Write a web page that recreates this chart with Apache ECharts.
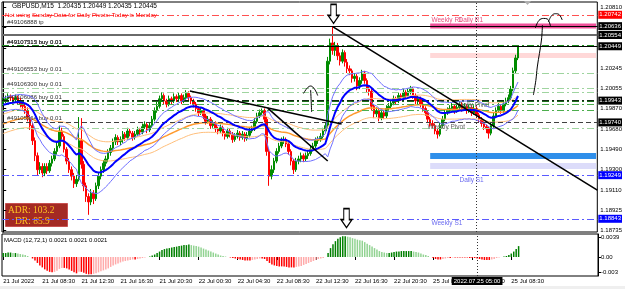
<!DOCTYPE html>
<html>
<head>
<meta charset="utf-8">
<script src="https://cdn.jsdelivr.net/npm/echarts@6.0.0/dist/echarts.min.js"></script>
<style>
html,body{margin:0;padding:0;background:#ffffff;}
#chart{width:625px;height:289px;}
</style>
</head>
<body>
<div id="chart"></div>
<script>
// ---------------- data ----------------
const firstOpen = 1.1992;
const closes = [
1.1994,1.1996,1.1998,1.1997,1.1995,1.1997,1.1994,1.1991,1.1989,1.1985,
1.1978,1.1971,1.1957,1.1943,1.1930,1.1933,1.1927,1.1933,1.1929,1.1936,
1.1940,1.1947,1.1952,1.1966,1.1961,1.1949,1.1938,1.1930,1.1924,1.1917,
1.1921,1.1957,1.1935,1.1915,1.1905,1.1900,1.1908,1.1903,1.1915,1.1924,
1.1930,1.1936,1.1940,1.1946,1.1950,1.1956,1.1960,1.1956,1.1958,1.1963,
1.1960,1.1966,1.1964,1.1960,1.1963,1.1967,1.1965,1.1970,1.1972,1.1967,
1.1971,1.1977,1.1985,1.1989,1.1996,1.1999,1.1994,1.1991,1.1996,1.1994,
1.1998,1.1996,1.1999,1.1994,1.1997,1.2001,1.1997,1.1994,1.1991,1.1987,
1.1983,1.1985,1.1980,1.1975,1.1977,1.1971,1.1973,1.1968,1.1966,1.1969,
1.1964,1.1961,1.1966,1.1963,1.1958,1.1961,1.1964,1.1960,1.1963,1.1959,
1.1962,1.1966,1.1968,1.1975,1.1980,1.1983,1.1985,1.1977,1.1947,1.1924,
1.1930,1.1938,1.1947,1.1952,1.1957,1.1958,1.1954,1.1947,1.1938,1.1930,
1.1938,1.1940,1.1943,1.1940,1.1943,1.1945,1.1949,1.1952,1.1957,1.1958,
1.1961,1.1966,1.1971,1.2031,1.2048,1.2041,1.2045,1.2036,1.2031,1.2039,
1.2030,1.2024,1.2022,1.2015,1.2017,1.2008,1.2013,1.2020,1.2013,1.2005,
1.2003,1.1989,1.1982,1.1985,1.1978,1.1983,1.1980,1.1987,1.1989,1.1992,
1.1996,1.1994,1.1999,1.1997,1.2002,1.1999,1.2003,1.2005,1.1999,1.1994,
1.1996,1.1991,1.1987,1.1983,1.1977,1.1973,1.1971,1.1966,1.1963,1.1971,
1.1977,1.1983,1.1985,1.1987,1.1989,1.1985,1.1988,1.1991,1.1987,1.1989,
1.1985,1.1988,1.1983,1.1987,1.1981,1.1977,1.1973,1.1970,1.1968,1.1964,
1.1971,1.1980,1.1985,1.1989,1.1985,1.1991,1.1994,1.1997,1.2005,1.2022,
1.2034,1.20445
];
const highs = [
1.1997,1.1999,1.2001,1.2000,1.1999,1.2000,1.1999,1.1997,1.1994,1.1992,
1.1988,1.1981,1.1974,1.1960,1.1946,1.1937,1.1936,1.1936,1.1936,1.1939,
1.1943,1.1950,1.1956,1.1971,1.1969,1.1963,1.1951,1.1941,1.1933,1.1927,
1.1925,1.1979,1.1978,1.1938,1.1918,1.1908,1.1912,1.1911,1.1918,1.1927,
1.1933,1.1939,1.1943,1.1949,1.1953,1.1959,1.1963,1.1962,1.1961,1.1966,
1.1965,1.1969,1.1968,1.1966,1.1966,1.1970,1.1969,1.1973,1.1975,1.1974,
1.1974,1.1980,1.1988,1.1993,1.1999,1.2002,1.2001,1.1996,1.1999,1.1998,
1.2001,1.2000,1.2002,1.2001,1.2000,1.2004,1.2003,1.1999,1.1996,1.1993,
1.1989,1.1988,1.1987,1.1982,1.1980,1.1979,1.1976,1.1975,1.1970,1.1972,
1.1971,1.1966,1.1969,1.1968,1.1965,1.1964,1.1967,1.1966,1.1966,1.1965,
1.1965,1.1969,1.1971,1.1978,1.1983,1.1986,1.1987,1.1987,1.1979,1.1950,
1.1934,1.1941,1.1950,1.1955,1.1960,1.1961,1.1960,1.1956,1.1949,1.1940,
1.1941,1.1943,1.1946,1.1945,1.1946,1.1948,1.1952,1.1955,1.1960,1.1961,
1.1964,1.1969,1.1974,1.2035,1.2052,1.2063,1.2049,1.2048,1.2039,1.2042,
1.2041,1.2033,1.2027,1.2024,1.2020,1.2019,1.2016,1.2023,1.2022,1.2015,
1.2008,1.2005,1.1991,1.1988,1.1987,1.1986,1.1985,1.1990,1.1992,1.1995,
1.1999,1.1998,1.2002,1.2001,1.2005,1.2004,1.2006,1.2008,1.2007,1.2001,
1.1999,1.1998,1.1993,1.1989,1.1985,1.1979,1.1976,1.1973,1.1968,1.1974,
1.1980,1.1986,1.1988,1.1990,1.1992,1.1991,1.1991,1.1994,1.1993,1.1992,
1.1991,1.1991,1.1990,1.1990,1.1989,1.1983,1.1979,1.1975,1.1972,1.1970,
1.1974,1.1983,1.1988,1.1992,1.1991,1.1994,1.1997,1.2000,1.2008,1.2025,
1.2037,1.20449
];
const lows = [
1.1989,1.1992,1.1994,1.1994,1.1992,1.1993,1.1991,1.1988,1.1986,1.1982,
1.1975,1.1967,1.1953,1.1938,1.1925,1.1926,1.1923,1.1924,1.1926,1.1927,
1.1933,1.1938,1.1944,1.1950,1.1958,1.1946,1.1935,1.1927,1.1920,1.1913,
1.1914,1.1919,1.1931,1.1910,1.1900,1.1888,1.1897,1.1898,1.1901,1.1912,
1.1921,1.1927,1.1933,1.1937,1.1943,1.1947,1.1953,1.1953,1.1953,1.1955,
1.1957,1.1958,1.1961,1.1957,1.1958,1.1961,1.1962,1.1963,1.1968,1.1964,
1.1965,1.1969,1.1975,1.1983,1.1987,1.1993,1.1991,1.1988,1.1989,1.1991,
1.1992,1.1993,1.1994,1.1991,1.1992,1.1995,1.1994,1.1991,1.1988,1.1984,
1.1980,1.1981,1.1977,1.1972,1.1973,1.1968,1.1969,1.1965,1.1963,1.1964,
1.1961,1.1958,1.1959,1.1960,1.1955,1.1956,1.1959,1.1957,1.1958,1.1956,
1.1957,1.1960,1.1964,1.1966,1.1973,1.1978,1.1981,1.1974,1.1943,1.1915,
1.1921,1.1927,1.1936,1.1945,1.1950,1.1954,1.1951,1.1944,1.1934,1.1926,
1.1928,1.1935,1.1937,1.1937,1.1938,1.1940,1.1943,1.1947,1.1950,1.1954,
1.1956,1.1959,1.1964,1.1969,1.2028,1.2037,1.2036,1.2032,1.2027,1.2029,
1.2026,1.2020,1.2018,1.2011,1.2012,1.2004,1.2005,1.2010,1.2010,1.2002,
1.1999,1.1985,1.1978,1.1979,1.1975,1.1976,1.1977,1.1978,1.1984,1.1987,
1.1990,1.1991,1.1992,1.1994,1.1995,1.1996,1.1997,1.2000,1.1996,1.1991,
1.1991,1.1988,1.1984,1.1980,1.1974,1.1970,1.1968,1.1963,1.1959,1.1961,
1.1969,1.1975,1.1981,1.1983,1.1985,1.1982,1.1983,1.1986,1.1984,1.1985,
1.1982,1.1983,1.1980,1.1981,1.1978,1.1974,1.1970,1.1967,1.1964,1.1959,
1.1962,1.1969,1.1978,1.1983,1.1982,1.1983,1.1989,1.1992,1.1995,1.2003,
1.2020,1.2032
];
const macdHist = [
.0008,.0008,.0009,.0009,.0008,.0008,.0007,.0006,.0005,
.0004,.0002,0,
-.0003,-.0007,-.0012,-.0017,-.0021,
-.0025,-.0028,-.0030,-.0031,-.0030,-.0028,
-.0024,-.0022,-.0022,-.0023,
-.0025,-.0028,-.0031,-.0033,-.0030,-.0030,
-.0032,-.0034,-.0035,-.0035,-.0034,-.0033,-.0031,-.0029,
-.0027,-.0025,-.0023,-.0020,-.0017,-.0015,-.0013,-.0011,
-.0009,-.0008,-.0007,-.0006,-.0005,-.0005,-.0004,-.0003,
-.0002,-.0001,0,.0001,
.0003,.0005,.0008,.0011,.0014,.0016,
.0017,.0018,.0019,.0020,.0021,.0022,.0023,.0024,.0024,.0025,
.0024,.0023,.0022,.0021,.0019,.0017,
.0015,.0013,.0011,.0009,.0007,.0005,.0003,.0002,
.0001,0,-.0001,
-.0002,-.0003,-.0004,-.0005,-.0006,-.0007,-.0007,
-.0007,-.0006,-.0005,-.0004,-.0003,-.0003,-.0004,
-.0008,-.0012,-.0015,-.0017,-.0018,-.0019,-.0019,-.0019,
-.0020,-.0021,-.0021,-.0021,-.0020,-.0019,-.0018,-.0016,
-.0014,-.0012,-.0010,-.0008,-.0006,-.0004,-.0003,-.0002,0,
.0008,.0018,.0026,.0032,.0037,
.0040,.0042,.0042,.0041,.0040,
.0038,.0037,.0035,.0034,.0033,
.0030,.0027,.0024,.0021,.0018,.0015,.0012,
.0010,.0009,.0008,.0008,.0009,.0010,
.0011,.0011,.0012,.0012,.0012,.0012,.0012,
.0011,.0010,.0009,.0007,.0005,.0004,.0002,
0,-.0002,-.0004,-.0005,-.0005,
-.0004,-.0003,-.0002,-.0002,-.0001,-.0001,-.0001,
-.0001,-.0001,-.0001,-.0001,-.0002,-.0002,-.0002,
-.0003,-.0004,-.0005,-.0006,-.0006,-.0006,-.0005,
-.0004,-.0002,-.0001,0,.0001,
.0002,.0004,.0007,.0011,.0016,.0022
];
const tickTimes = ['21 Jul 04:30','21 Jul 08:30','21 Jul 12:30','21 Jul 16:30','21 Jul 20:30','22 Jul 00:30','22 Jul 04:30','22 Jul 08:30','22 Jul 12:30','22 Jul 16:30','22 Jul 20:30','25 Jul 00:30','25 Jul 04:30','25 Jul 08:30'];
const tickTexts = ['21 Jul 2022','21 Jul 08:30','21 Jul 12:30','21 Jul 16:30','21 Jul 20:30','22 Jul 00:30','22 Jul 04:30','22 Jul 08:30','22 Jul 12:30','22 Jul 16:30','22 Jul 20:30','25 Jul 00:30','25 Jul 04:30','25 Jul 08:30'];
const priceTicks = [1.20810,1.20625,1.20435,1.20245,1.20055,1.19870,1.19680,1.19490,1.19300,1.19110,1.18925,1.18735];
const macdTicks = [0.0039, 0, -0.003];
const boxPrices = [1.20742,1.20636,1.20554,1.20449,1.19943,1.19740,1.19249,1.18843];
const orderPrices = [1.20638,1.20452,1.20445,1.20196,1.20061,1.20023,1.19940,1.19912,1.19856,1.19738,1.19688];
const orderLabels = ['#49106888 tp','#49107313 buy 0.01','#49107515 buy 0.01','#49106553 buy 0.01','#49106300 buy 0.01','','#49106086 buy 0.01','','','#49105964 buy 0.01',''];
const bandPrices = [[1.20662,1.20615],[1.20386,1.20340],[1.19456,1.19400],[1.19363,1.19307]];
const bandStart = 175;
const pivotNames = ['Weekly R1','Daily R1','Daily Pivot','Weekly Pivot','Daily S1','Weekly S1'];
const pivotAnchors = [[175.5,1.20694],[186.6,1.20694],[186.6,1.19902],[173.9,1.19698],[187.0,1.19204],[175.5,1.18804]];
const trendLines = [
  [[76.5,1.20033],[138.7,1.19726]],
  [[108.4,1.19874],[133.0,1.19381]],
  [[135.2,1.20630],[243.5,1.19110]]
];
const crossIndex = 194;
const crossText = '2022.07.25 05:00';
const adrText = ['ADR: 103.2','DR: 85.9'];
// hand-drawn strokes (index, price)
const sketch1 = [[126.4,1.19837],[126.2,1.19950],[126.0,1.20042]];
const sketch1Head = [[123.1,1.20010],[124.6,1.20060],[126.0,1.20079],[127.6,1.20050],[128.9,1.19990]];
const sketch2 = [[217.3,1.19995],[218.3,1.20130],[218.9,1.20256],[220.6,1.20507],[221.0,1.20647]];
const sketch2Head = [[218.1,1.20619],[219.6,1.20690],[221.5,1.20708],[223.0,1.20703],[224.3,1.20638]];
const sketch3Head = [[223.4,1.20675],[224.8,1.20735],[226.3,1.20752],[227.8,1.20745],[229.1,1.20694]];
const arrowMarks = [[135.4,1.20750],[140.7,1.18850]];
// indicator seeds read at the left edge
const blueSeed = 1.1990, atrSeed = 0.0006, orangeSeed = 1.1972;

// ---------------- derived ----------------
const SLOTS = 244;
function pad(n){return (n<10?'0':'')+n;}
const times = [];
(function(){ let d=21, m=4*60+30; for(let k=0;k<SLOTS;k++){ times.push(d+' Jul '+pad(Math.floor(m/60))+':'+pad(m%60)); m+=15; if(m>=1440){m-=1440; d=(d===22)?25:d+1;} } })();
const tickMap = {}; tickTimes.forEach((t,i)=>tickMap[t]=tickTexts[i]);

const opens = closes.map((c,i)=> i===0 ? firstOpen : closes[i-1]);
const candles = closes.map((c,i)=>[opens[i], c, lows[i], highs[i]]);
function ema(src, period, seed){ const k=2/(period+1); let e=seed; return src.map(v=>{ e+=k*(v-e); return e; }); }
const tr = closes.map((c,i)=>{ const pc = opens[i]; return Math.max(highs[i]-lows[i], Math.abs(highs[i]-pc), Math.abs(lows[i]-pc)); });
const atr = ema(tr, 10, atrSeed);
const blueMid = ema(closes, 20, blueSeed);
const blueUp = blueMid.map((v,i)=>v+1.0*atr[i]);
const blueDn = blueMid.map((v,i)=>v-1.0*atr[i]);
const orMid = ema(closes, 60, orangeSeed);
const orUp = orMid.map(v=>v*1.00075);
const orDn = orMid.map(v=>v*0.99925);

const macdItems = macdHist.map((v,i)=>{
  const p = i===0 ? v : macdHist[i-1];
  let col;
  if (v >= 0) col = (v >= p) ? '#008000' : '#92D392';
  else col = (v <= p) ? '#FF0000' : '#FFAAAA';
  return {value:v, itemStyle:{color:col}};
});

const FONT = 'Liberation Sans';
const DASHDOT = [7,3,2,3];
const boxStyles = [
  {color:'#FF5050', type:DASHDOT, width:1, bg:'#FF0000'},
  {color:'#000000', type:'solid', width:1, bg:'#000000'},
  {color:'#6A6A6A', type:'solid', width:2, bg:'#000000'},
  {color:'#000000', type:'solid', width:1, bg:'#000000'},
  {color:'#102810', type:DASHDOT, width:1, bg:'#000000'},
  {color:'#404040', type:[5,3], width:1, bg:'#000000'},
  {color:'#5A5AFF', type:DASHDOT, width:1, bg:'#0000FF'},
  {color:'#5A5AFF', type:DASHDOT, width:1, bg:'#0000FF'}
];
const orderStyles = [
  {color:'#000000', type:'solid', width:1},
  {color:'#1E8C1E', type:DASHDOT, width:2},
  {color:'#1E8C1E', type:DASHDOT, width:1},
  {color:'#9FD49F', type:DASHDOT, width:1},
  {color:'#9FD49F', type:DASHDOT, width:1},
  {color:'#9FD49F', type:DASHDOT, width:1},
  {color:'#1E6E1E', type:DASHDOT, width:1},
  {color:'#4DAE4D', type:DASHDOT, width:1},
  {color:'#4DAE4D', type:DASHDOT, width:1},
  {color:'#404040', type:[5,3], width:1},
  {color:'#9FD49F', type:DASHDOT, width:1}
];
const bandColors = ['#F0509A','#FFD8D8','#2F8FEA','#DCDCFA'];
const pivotColors = ['#E8507E','#E8507E','#666666','#666666','#6B6BF0','#6B6BF0'];

const levelMarkLines = [];
orderPrices.forEach((p,i)=>{
  levelMarkLines.push({yAxis:p, lineStyle:{color:orderStyles[i].color, type:orderStyles[i].type, width:orderStyles[i].width},
    label:{show:!!orderLabels[i], position:'insideStartTop', formatter:orderLabels[i], distance:[5,1], fontSize:6, color:'#303030', fontFamily:FONT}});
});
boxPrices.forEach((p,i)=>{
  const s = boxStyles[i];
  levelMarkLines.push({yAxis:p, lineStyle:{color:s.color, type:s.type, width:s.width},
    label:{show:true, position:'end', distance:1, formatter:p.toFixed(5), fontSize:6, color:'#FFFFFF', backgroundColor:s.bg, padding:[1,1,1,1], fontFamily:FONT}});
});
levelMarkLines.push({xAxis:crossIndex, lineStyle:{color:'#333', type:[1,2], width:1}, label:{show:false}});

const pivotPoints = pivotNames.map((n,i)=>({name:n, coord:pivotAnchors[i], symbol:'circle', symbolSize:0,
  label:{show:true, position:'right', distance:0, formatter:n, fontSize:6.5, color:pivotColors[i], fontFamily:FONT}}));

const arrowPath = 'path://M3,0 L9,0 L9,11 L12,11 L6,19 L0,11 L3,11 Z';

function lineSeries(data, color, width, z){
  return {type:'line', xAxisIndex:0, yAxisIndex:0, data:data, symbol:'none', smooth:false, z:z, silent:true,
    lineStyle:{color:color, width:width}, itemStyle:{color:color}};
}
function sketchSeries(data, width){
  return {type:'line', xAxisIndex:2, yAxisIndex:0, data:data, symbol:'none', smooth:0.4, z:6, silent:true,
    lineStyle:{color:'#000', width:width}};
}

const chart = echarts.init(document.getElementById('chart'), null, {renderer:'canvas'});
const option = {
  animation:false,
  textStyle:{fontFamily:FONT},
  title:[
    {text:'GBPUSD,M15  1.20435 1.20449 1.20435 1.20445', left:12, top:3, padding:0, textStyle:{fontSize:6.5, fontWeight:'normal', color:'#000', fontFamily:FONT}},
    {text:'Not using Sunday Data for Daily Pivots: Today is Monday', left:5, top:12, padding:0, textStyle:{fontSize:6, fontWeight:'normal', color:'#FF0000', fontFamily:FONT}},
    {text:'MACD (12,72,1) 0.0021 0.0021 0.0021', left:4, top:237, padding:0, textStyle:{fontSize:6, fontWeight:'normal', color:'#000', fontFamily:FONT}}
  ],
  grid:[
    {left:2, right:27, top:2, height:230, show:true, borderColor:'#000', borderWidth:1, backgroundColor:'transparent'},
    {left:2, right:27, top:234, height:42, show:true, borderColor:'#000', borderWidth:1, backgroundColor:'transparent'}
  ],
  xAxis:[
    {type:'category', gridIndex:0, data:times, boundaryGap:true, axisLine:{show:false}, axisTick:{show:false}, axisLabel:{show:false}, splitLine:{show:false}},
    {type:'category', gridIndex:1, data:times, boundaryGap:true, axisLine:{show:false},
      axisTick:{show:true, alignWithLabel:true, length:3, interval:(i,v)=>tickMap[v]!==undefined, lineStyle:{color:'#000'}},
      axisLabel:{show:true, interval:(i,v)=>tickMap[v]!==undefined, formatter:v=>tickMap[v]||'', align:'left', fontSize:6, color:'#000', margin:2, fontFamily:FONT},
      splitLine:{show:false}},
    {type:'value', gridIndex:0, min:-0.5, max:SLOTS-0.5, show:false}
  ],
  yAxis:[
    {type:'value', gridIndex:0, position:'right', min:1.18720, max:1.20861, scale:true,
      axisLine:{show:true, lineStyle:{color:'#000'}}, splitLine:{show:false},
      axisTick:{show:true, customValues:priceTicks, length:3, lineStyle:{color:'#000'}},
      axisLabel:{show:true, customValues:priceTicks, formatter:v=>v.toFixed(5), fontSize:6, color:'#000', margin:3, fontFamily:FONT}},
    {type:'value', gridIndex:1, position:'right', min:-0.003838, max:0.004646,
      axisLine:{show:true, lineStyle:{color:'#000'}}, splitLine:{show:false},
      axisTick:{show:true, customValues:macdTicks, length:3, lineStyle:{color:'#000'}},
      axisLabel:{show:true, customValues:macdTicks, formatter:v=>(v===0?'0.00':String(v)), fontSize:6, color:'#000', margin:3, fontFamily:FONT}}
  ],
  graphic:[
    {type:'rect', left:5, top:203, z:0, shape:{width:62, height:23}, style:{fill:'#A42A24', stroke:'#C85050', lineWidth:1}},
    {type:'text', left:8, top:205, z:1, style:{text:adrText[0], fill:'#FFC125', font:'9.5px "Liberation Serif"'}},
    {type:'text', left:15, top:216, z:1, style:{text:adrText[1], fill:'#FFC125', font:'9.5px "Liberation Serif"'}},
    {type:'polygon', z:1, shape:{points:[[524,1],[531,1],[527.5,5]]}, style:{fill:'#B0B0B0'}},
    {type:'rect', left:0, top:286, z:0, shape:{width:625, height:3}, style:{fill:'#EFEFEF'}}
  ],
  series:[
    {type:'line', name:'levels', xAxisIndex:0, yAxisIndex:0, data:[], z:1, silent:true,
      markArea:{silent:true, data:bandPrices.map((b,i)=>[{xAxis:bandStart, yAxis:b[0], itemStyle:{color:bandColors[i]}},{xAxis:SLOTS-1, yAxis:b[1]}])},
      markLine:{silent:true, precision:6, symbol:['none','none'], animation:false, data:levelMarkLines}},
    {type:'line', name:'pivots', xAxisIndex:2, yAxisIndex:0, data:[], z:2, silent:true,
      markPoint:{silent:true, data:pivotPoints}},
    {type:'candlestick', name:'GBPUSD', xAxisIndex:0, yAxisIndex:0, data:candles, z:3, barWidth:2, silent:true,
      itemStyle:{color:'#008C00', color0:'#FF0000', borderColor:'#008C00', borderColor0:'#FF0000', borderWidth:1}},
    lineSeries(orUp, '#FFBE7A', 1, 4),
    lineSeries(orDn, '#FFBE7A', 1, 4),
    lineSeries(orMid, '#FF9A2E', 1.5, 4),
    lineSeries(blueUp, '#6F6FFF', 1, 5),
    lineSeries(blueDn, '#6F6FFF', 1, 5),
    lineSeries(blueMid, '#0000FF', 2, 5),
    ...trendLines.map(t=>({type:'line', xAxisIndex:2, yAxisIndex:0, data:t, symbol:'none', z:6, silent:true, lineStyle:{color:'#000', width:1.6}})),
    sketchSeries(sketch1, 1), sketchSeries(sketch1Head, 1),
    sketchSeries(sketch2, 1), sketchSeries(sketch2Head, 1), sketchSeries(sketch3Head, 1),
    {type:'line', name:'arrows', xAxisIndex:2, yAxisIndex:0, data:[], z:7, silent:true,
      markPoint:{silent:true, data:arrowMarks.map(c=>({coord:c, symbol:arrowPath, symbolSize:[11,19], symbolKeepAspect:false,
        itemStyle:{color:'#FFFFFF', borderColor:'#000', borderWidth:1.3}, label:{show:false}}))}},
    {type:'bar', name:'MACD', xAxisIndex:1, yAxisIndex:1, data:macdItems, barWidth:1.5, z:3, silent:true,
      markLine:{silent:true, precision:6, symbol:['none','none'], animation:false,
        data:[{xAxis:crossIndex, lineStyle:{color:'#333', type:[1,2], width:1},
          label:{show:true, position:'start', distance:1, formatter:crossText, fontSize:6, color:'#FFF', backgroundColor:'#000', padding:[1,2,1,2], fontFamily:FONT}}]}}
  ]
};
chart.setOption(option);
</script>
</body>
</html>
